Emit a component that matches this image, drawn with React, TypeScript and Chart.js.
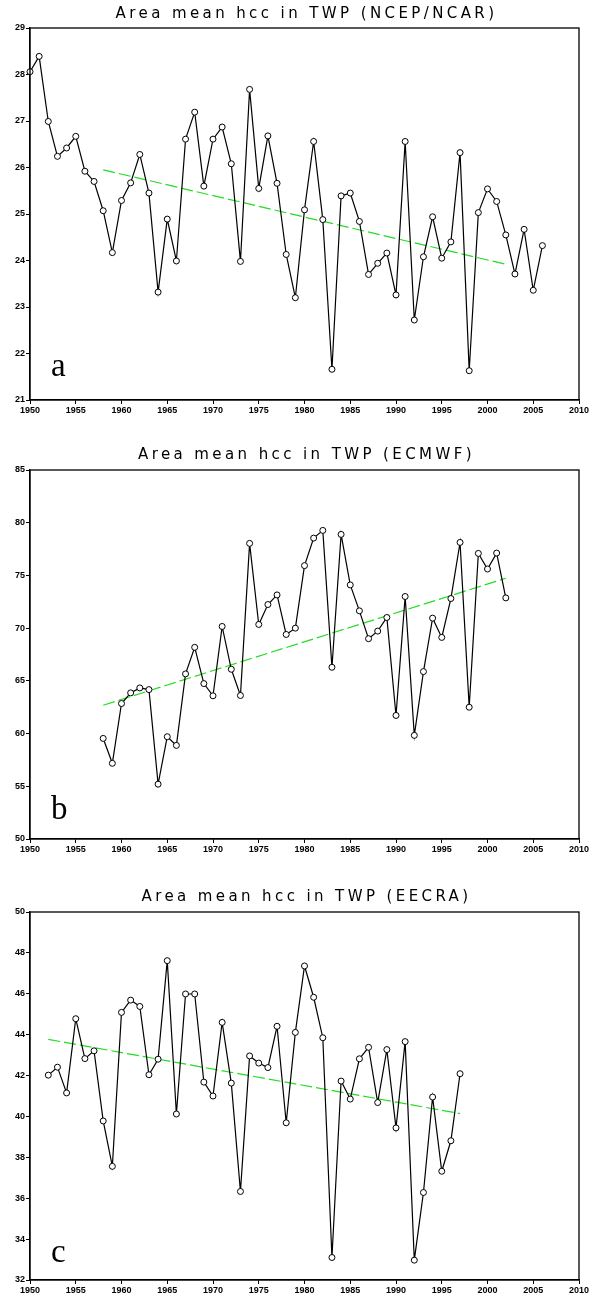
import { useEffect, useRef } from "react";
import { Chart, registerables } from "chart.js";

Chart.register(...registerables);

// ---------- Data ----------
const YEARS_A = [
  1950, 1951, 1952, 1953, 1954, 1955, 1956, 1957, 1958, 1959,
  1960, 1961, 1962, 1963, 1964, 1965, 1966, 1967, 1968, 1969,
  1970, 1971, 1972, 1973, 1974, 1975, 1976, 1977, 1978, 1979,
  1980, 1981, 1982, 1983, 1984, 1985, 1986, 1987, 1988, 1989,
  1990, 1991, 1992, 1993, 1994, 1995, 1996, 1997, 1998, 1999,
  2000, 2001, 2002, 2003, 2004, 2005, 2006,
];
const NCEP_HCC = [
  28.06, 28.39, 26.99, 26.24, 26.42, 26.67, 25.92, 25.7, 25.07, 24.17,
  25.29, 25.67, 26.28, 25.45, 23.32, 24.89, 23.99, 26.61, 27.19, 25.6,
  26.61, 26.87, 26.08, 23.98, 27.68, 25.55, 26.68, 25.66, 24.13, 23.2,
  25.09, 26.56, 24.88, 21.66, 25.39, 25.45, 24.84, 23.7, 23.94, 24.16,
  23.26, 26.56, 22.72, 24.08, 24.94, 24.05, 24.4, 26.32, 21.63, 25.03,
  25.54, 25.27, 24.55, 23.71, 24.67, 23.36, 24.32,
];
const NCEP_TREND_X = [1958, 2002];
const NCEP_TREND_Y = [25.95, 23.92];

const YEARS_B = [
  1958, 1959, 1960, 1961, 1962, 1963, 1964, 1965, 1966, 1967,
  1968, 1969, 1970, 1971, 1972, 1973, 1974, 1975, 1976, 1977,
  1978, 1979, 1980, 1981, 1982, 1983, 1984, 1985, 1986, 1987,
  1988, 1989, 1990, 1991, 1992, 1993, 1994, 1995, 1996, 1997,
  1998, 1999, 2000, 2001, 2002,
];
const ECMWF_HCC = [
  59.54, 57.18, 62.85, 63.86, 64.33, 64.17, 55.2, 59.7, 58.88, 65.66,
  68.18, 64.74, 63.58, 70.16, 66.1, 63.61, 78.04, 70.35, 72.24, 73.15,
  69.4, 70.0, 75.93, 78.54, 79.27, 66.29, 78.89, 74.1, 71.64, 69.0,
  69.72, 71.01, 61.72, 73.0, 59.83, 65.88, 70.95, 69.12, 72.81, 78.13,
  62.5, 77.09, 75.61, 77.12, 72.87,
];
const ECMWF_TREND_X = [1958, 2002];
const ECMWF_TREND_Y = [62.69, 74.73];

const YEARS_C = [
  1952, 1953, 1954, 1955, 1956, 1957, 1958, 1959, 1960, 1961,
  1962, 1963, 1964, 1965, 1966, 1967, 1968, 1969, 1970, 1971,
  1972, 1973, 1974, 1975, 1976, 1977, 1978, 1979, 1980, 1981,
  1982, 1983, 1984, 1985, 1986, 1987, 1988, 1989, 1990, 1991,
  1992, 1993, 1994, 1995, 1996, 1997,
];
const EECRA_HCC = [
  42.02, 42.41, 41.15, 44.78, 42.83, 43.21, 39.78, 37.56, 45.09, 45.69,
  45.38, 42.04, 42.8, 47.62, 40.12, 45.99, 45.99, 41.68, 41.0, 44.6,
  41.63, 36.33, 42.96, 42.61, 42.39, 44.41, 39.69, 44.11, 47.36, 45.83,
  43.85, 33.1, 41.73, 40.85, 42.82, 43.38, 40.68, 43.27, 39.44, 43.66,
  32.97, 36.28, 40.95, 37.32, 38.81, 42.09,
];
const EECRA_TREND_X = [1952, 1997];
const EECRA_TREND_Y = [43.77, 40.14];

const X_MIN = 1950;
const X_MAX = 2010;
const X_STEP = 5;

const TITLES = [
  "Area mean hcc in TWP (NCEP/NCAR)",
  "Area mean hcc in TWP (ECMWF)",
  "Area mean hcc in TWP (EECRA)",
];
const LETTERS = ["a", "b", "c"];
const Y_RANGES = [
  { min: 21, max: 29, step: 1 },
  { min: 50, max: 85, step: 5 },
  { min: 32, max: 50, step: 2 },
];

// ---------- Panels ----------
type PanelDef = {
  top: number;
  height: number;
  plotTop: number;
  plotBottom: number;
  titleY: number;
  letterOffset: number;
  years: number[];
  values: number[];
  trendX: number[];
  trendY: number[];
  title: string;
  letter: string;
  y: { min: number; max: number; step: number };
};

const PANELS: PanelDef[] = [
  {
    top: 0, height: 430, plotTop: 28, plotBottom: 400, titleY: 14, letterOffset: 24,
    years: YEARS_A, values: NCEP_HCC, trendX: NCEP_TREND_X, trendY: NCEP_TREND_Y,
    title: TITLES[0], letter: LETTERS[0], y: Y_RANGES[0],
  },
  {
    top: 430, height: 440, plotTop: 40, plotBottom: 409, titleY: 25, letterOffset: 20,
    years: YEARS_B, values: ECMWF_HCC, trendX: ECMWF_TREND_X, trendY: ECMWF_TREND_Y,
    title: TITLES[1], letter: LETTERS[1], y: Y_RANGES[1],
  },
  {
    top: 870, height: 430, plotTop: 42, plotBottom: 410, titleY: 27, letterOffset: 18,
    years: YEARS_C, values: EECRA_HCC, trendX: EECRA_TREND_X, trendY: EECRA_TREND_Y,
    title: TITLES[2], letter: LETTERS[2], y: Y_RANGES[2],
  },
];

const decorPlugin = {
  id: "decor",
  afterDraw(chart: any, _args: any, opts: any) {
    const { ctx, chartArea: a } = chart;
    ctx.save();
    ctx.strokeStyle = "#000";
    ctx.lineWidth = 1.3;
    ctx.strokeRect(a.left, a.top, a.right - a.left, a.bottom - a.top);

    ctx.fillStyle = "#000";
    ctx.font = '15px "DejaVu Sans"';
    (ctx as any).letterSpacing = "3.4px";
    ctx.textAlign = "center";
    ctx.textBaseline = "middle";
    ctx.fillText(opts.title, (a.left + a.right) / 2 + 2, opts.titleY);

    (ctx as any).letterSpacing = "0px";
    ctx.font = '33px "Liberation Serif"';
    ctx.textAlign = "left";
    ctx.textBaseline = "alphabetic";
    ctx.fillText(opts.letter, a.left + 21, a.bottom - opts.letterOffset);
    ctx.restore();
  },
};

function PanelChart({ p }: { p: PanelDef }) {
  const ref = useRef<HTMLCanvasElement | null>(null);

  useEffect(() => {
    if (!ref.current) return;
    const series = p.years.map((yr, i) => ({ x: yr, y: p.values[i] }));
    const trend = p.trendX.map((yr, i) => ({ x: yr, y: p.trendY[i] }));
    const tickFont = { family: '"Liberation Sans", Arial, sans-serif', size: 9, weight: "bold" as const };
    const chart = new Chart(ref.current, {
      type: "line",
      data: {
        datasets: [
          {
            data: trend,
            borderColor: "#22dd22",
            borderWidth: 1.2,
            borderDash: [12, 4],
            pointRadius: 0,
            fill: false,
            tension: 0,
            order: 2,
          },
          {
            data: series,
            borderColor: "#000",
            borderWidth: 1.2,
            pointRadius: 3,
            pointBackgroundColor: "#fff",
            pointBorderColor: "#000",
            pointBorderWidth: 1,
            fill: false,
            tension: 0,
            clip: false,
            order: 1,
          },
        ],
      },
      options: {
        animation: false,
        responsive: false,
        devicePixelRatio: 1,
        events: [],
        layout: { padding: { top: p.plotTop, right: 13, left: 0, bottom: 0 } },
        plugins: {
          legend: { display: false },
          tooltip: { enabled: false },
          title: { display: false },
          decor: { title: p.title, letter: p.letter, titleY: p.titleY, letterOffset: p.letterOffset },
        } as any,
        scales: {
          x: {
            type: "linear",
            min: X_MIN,
            max: X_MAX,
            ticks: {
              stepSize: X_STEP,
              color: "#000",
              font: tickFont,
              padding: 1,
              maxRotation: 0,
              autoSkip: false,
              callback: (v: any) => String(v),
            },
            grid: { drawOnChartArea: false, tickLength: 4, color: "#000", lineWidth: 1 },
            border: { display: true, color: "#000", width: 1.3 },
            afterFit: (s: any) => {
              s.height = p.height - p.plotBottom;
            },
          },
          y: {
            type: "linear",
            min: p.y.min,
            max: p.y.max,
            ticks: {
              stepSize: p.y.step,
              color: "#000",
              font: tickFont,
              padding: 1,
              autoSkip: false,
              callback: (v: any) => String(v),
            },
            grid: { drawOnChartArea: false, tickLength: 4, color: "#000", lineWidth: 1 },
            border: { display: true, color: "#000", width: 1.3 },
            afterFit: (s: any) => {
              s.width = 30;
            },
          },
        },
      },
      plugins: [decorPlugin],
    });
    return () => chart.destroy();
  }, [p]);

  return (
    <canvas
      ref={ref}
      width={592}
      height={p.height}
      style={{ position: "absolute", left: 0, top: p.top, width: 592, height: p.height }}
    />
  );
}

export default function App() {
  return (
    <div style={{ position: "absolute", left: 0, top: 0, width: 592, height: 1300, background: "#fff" }}>
      {PANELS.map((p, i) => (
        <PanelChart key={i} p={p} />
      ))}
    </div>
  );
}
